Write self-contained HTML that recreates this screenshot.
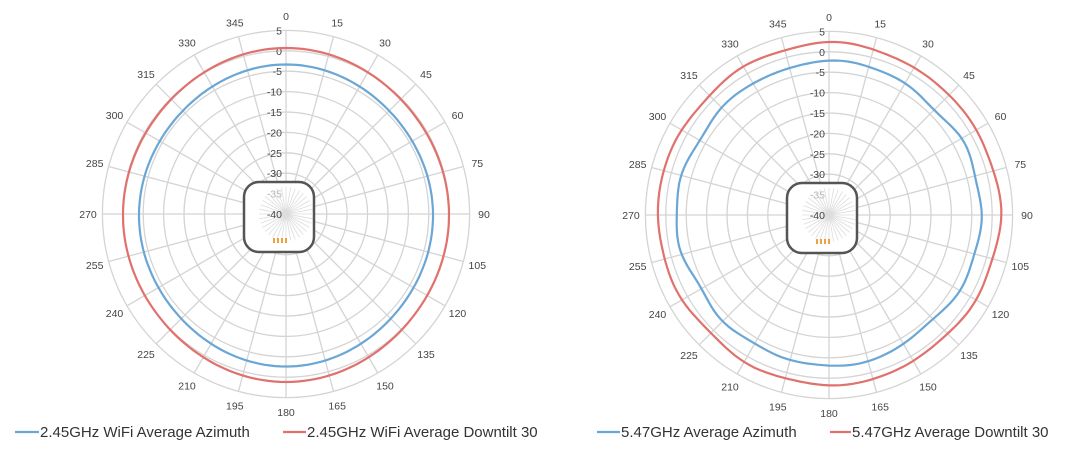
<!DOCTYPE html>
<html><head><meta charset="utf-8">
<style>
html,body{margin:0;padding:0;background:#fff;}
body{width:1080px;height:449px;overflow:hidden;font-family:"Liberation Sans",sans-serif;}
svg{display:block}
</style></head>
<body>
<svg id="s" width="1080" height="449" xmlns="http://www.w3.org/2000/svg" font-family="Liberation Sans, sans-serif"></svg>
<script>
const S=document.getElementById('s');
let out='';
function chart(cx,cy,blueF,redF){
  const rr=v=>(v+40)/5*20.4;
  for(let v=5;v>=-35;v-=5){
    out+=`<circle cx="${cx}" cy="${cy}" r="${rr(v).toFixed(1)}" fill="none" stroke="#d4d4d4" stroke-width="1.3"/>`;
  }
  for(let a=0;a<360;a+=15){
    const t=a*Math.PI/180;
    const x=cx+Math.sin(t)*rr(5), y=cy-Math.cos(t)*rr(5);
    out+=`<line x1="${cx}" y1="${cy}" x2="${x.toFixed(1)}" y2="${y.toFixed(1)}" stroke="#d4d4d4" stroke-width="1.3"/>`;
    const lx=cx+Math.sin(t)*198, ly=cy-Math.cos(t)*198+4;
    out+=`<text x="${lx.toFixed(1)}" y="${ly.toFixed(1)}" font-size="10.5" fill="#444" text-anchor="middle">${a}</text>`;
  }
  out+=`<rect x="${cx-42}" y="${cy-32}" width="70" height="70" rx="15" fill="#fff" stroke="#555" stroke-width="2.5"/>`;
  for(let a=0;a<360;a+=10){
    const t=a*Math.PI/180;
    out+=`<line x1="${cx}" y1="${cy}" x2="${(cx+Math.sin(t)*27).toFixed(1)}" y2="${(cy-Math.cos(t)*27).toFixed(1)}" stroke="#ddd" stroke-width="0.8"/>`;
  }
  for(let i=0;i<4;i++) out+=`<rect x="${cx-13+i*4}" y="${cy+24}" width="2" height="5" fill="#f0a040"/>`;
  for(let v=5;v>=-40;v-=5){
    const c=(v==-35)?'#bbb':'#444';
    out+=`<text x="${cx-4}" y="${(cy-rr(v)+4).toFixed(1)}" font-size="10.5" fill="${c}" text-anchor="end">${v}</text>`;
  }
  function path(f,col){
    let d='';
    for(let a=0;a<=360;a+=2){
      const t=a*Math.PI/180, r=f(t);
      d+=(a?'L':'M')+(cx+Math.sin(t)*r).toFixed(1)+','+(cy-Math.cos(t)*r).toFixed(1);
    }
    out+=`<path d="${d}Z" fill="none" stroke="${col}" stroke-width="2.2"/>`;
  }
  path(redF,'#e0716c');
  path(blueF,'#6aa6d6');
}
chart(286,214,
 t=>148+2*Math.cos(2*t)-1.5*Math.cos(t)+1*Math.cos(4*t),
 t=>164+2*Math.cos(2*t)-1*Math.cos(t)+1*Math.cos(4*t));
chart(829,215,
 t=>151+1.5*Math.cos(t)+1.5*Math.cos(4*t)+1*Math.sin(7*t)+0.8*Math.cos(11*t+1)+0.6*Math.sin(13*t),
 t=>170+1*Math.cos(t)+1.2*Math.cos(4*t)+0.7*Math.sin(9*t+0.5)+0.5*Math.cos(12*t));
out+=`<line x1="15" y1="432" x2="39" y2="432" stroke="#6aa6d6" stroke-width="2.2"/>
<text x="40" y="437" font-size="15" fill="#333">2.45GHz WiFi Average Azimuth</text>
<line x1="283" y1="432" x2="306" y2="432" stroke="#e0716c" stroke-width="2.2"/>
<text x="307" y="437" font-size="15" fill="#333">2.45GHz WiFi Average Downtilt 30</text>
<line x1="597" y1="432" x2="620" y2="432" stroke="#6aa6d6" stroke-width="2.2"/>
<text x="621" y="437" font-size="15" fill="#333">5.47GHz Average Azimuth</text>
<line x1="830" y1="432" x2="851" y2="432" stroke="#e0716c" stroke-width="2.2"/>
<text x="852" y="437" font-size="15" fill="#333">5.47GHz Average Downtilt 30</text>`;
S.innerHTML=out;
</script>
</body></html>
